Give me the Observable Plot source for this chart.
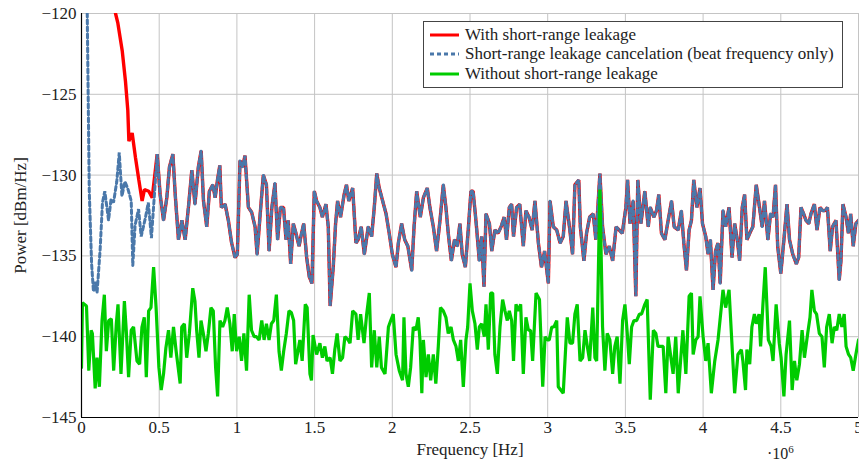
<!DOCTYPE html>
<html>
<head>
<meta charset="utf-8">
<script src="https://cdn.jsdelivr.net/npm/d3@7"></script>
<script src="https://cdn.jsdelivr.net/npm/@observablehq/plot@0.6"></script>
<style>
  html, body { margin: 0; padding: 0; background: #fff; }
  #wrap { position: relative; width: 859px; height: 464px; font-family: "Liberation Serif", serif; color: #222; }
  #wrap svg text { font-family: "Liberation Serif", serif; }
  #legend { position: absolute; left: 423px; top: 21px; width: 420px; height: 67px; border: 1px solid #444; background: #fff; box-sizing: border-box; }
  .row { position: absolute; left: 0; height: 20px; display: flex; align-items: center; font-size: 17px; white-space: nowrap; }
  .row svg { margin-left: 6px; margin-right: 6px; }
  #xexp { position: absolute; left: 767px; top: 443px; font-size: 16px; }
</style>
</head>
<body>
<div id="wrap"></div>
<script>
// Frequency axis values are in units of 10^6 Hz
const xTicks = [0, 0.5, 1, 1.5, 2, 2.5, 3, 3.5, 4, 4.5, 5];
const yTicks = [-145, -140, -135, -130, -125, -120];
const seriesNames = ["With short-range leakage", "Short-range leakage cancelation (beat frequency only)", "Without short-range leakage"];

// Red: with short-range leakage
const redFreq = [0.15,0.18,0.2,0.219,0.234,0.262,0.283,0.298,0.305,0.326,0.347,0.369,0.39,0.405,0.433,0.455,0.487,
0.506,0.528,0.549,0.566,0.588,0.603,0.624,0.646,0.667,0.688,0.71,0.73,0.752,0.77,0.785,0.806,0.823,0.845,0.86,0.875,0.89,0.90,0.924,0.945,0.966,0.988,1.003,1.02,1.037,1.052,1.074,1.095,1.117,1.13,1.15,1.17,1.19,1.207,1.225,1.245,1.262,1.28,1.3,1.316,1.33,1.346,1.363,1.38,1.4,1.416,1.43,1.449,1.466,1.483,1.498,1.513,1.534,1.55,1.573,1.588,1.6,1.62,1.635,1.648,1.667,1.69,1.705,1.72,
1.745,1.766,1.78,1.8,1.82,1.845,1.867,1.884,1.9,1.916,1.938,1.96,1.98,2.0,2.024,2.039,2.06,2.08,2.1,2.125,2.14,2.157,2.18,2.2,2.225,2.242,2.264,2.285,2.307,2.328,2.345,2.36,2.38,2.4,2.418,2.435,2.45,2.47,2.49,2.506,2.52,2.54,2.56,2.575,2.59,2.603,2.625,2.64,2.66,2.68,2.7,2.72,2.735,2.753,2.768,2.78,2.8,2.82,2.843,2.86,2.88,
2.9,2.918,2.94,2.96,2.98,3.004,3.015,3.036,3.058,3.08,3.1,3.118,3.14,3.16,3.175,3.2,3.21,3.233,3.25,3.27,3.293,3.31,3.336,3.353,3.375,3.396,3.418,3.44,3.46,3.48,3.503,3.514,3.53,3.55,3.567,3.58,3.6,3.625,3.647,3.66,3.683,3.7,3.715,3.732,3.754,3.775,3.797,3.814,3.84,3.86,3.876,3.893,3.91,3.925,3.94,3.96,3.98,3.996,
4.017,4.032,4.047,4.064,4.08,4.096,4.11,4.128,4.145,4.167,4.186,4.203,4.22,4.235,4.252,4.267,4.282,4.3,4.32,4.342,4.363,4.38,4.395,4.417,4.434,4.45,4.466,4.48,4.5,4.52,4.54,4.556,4.577,4.6,4.615,4.63,4.647,4.662,4.68,4.694,4.716,4.733,4.752,4.77,4.786,4.8,4.818,4.833,4.855,4.876,4.887,4.9,4.92,4.935,4.95,4.966,4.983,5.0];
const redPower = [-112,-115,-117.5,-120,-120.6,-122.3,-124.2,-126.0,-127.9,-127.4,-128.9,-130.3,-131.6,-130.9,-131.0,-131.4,-128.7,
-131.2,-132.8,-131.4,-129.5,-128.7,-131.2,-134.0,-132.8,-134.0,-132.0,-129.7,-131.8,-129.5,-128.5,-131.6,-133.2,-131.0,-130.6,-131.4,-130.3,-129.4,-132.0,-131.8,-132.8,-134.2,-135.1,-134.9,-129.1,-129.5,-128.8,-132.0,-132.3,-133.2,-134.9,-132.4,-130.0,-130.6,-134.7,-132.0,-130.5,-134.0,-132.0,-132.0,-134.0,-132.8,-135.5,-133.0,-133.6,-134.4,-133.6,-133.0,-135.1,-136.3,-136.7,-131.0,-131.6,-132.0,-132.6,-131.8,-133.2,-138.1,-135.7,-133.0,-131.6,-132.6,-131.2,-130.6,-131.6,
-130.8,-134.2,-134.0,-133.2,-134.9,-133.2,-133.8,-132.0,-129.9,-130.8,-131.6,-132.4,-133.6,-134.9,-135.7,-134.2,-133.0,-134.0,-134.4,-135.9,-133.2,-131.0,-132.6,-131.4,-130.8,-132.0,-133.2,-134.7,-132.8,-130.6,-132.0,-133.6,-135.3,-134.0,-134.4,-133.0,-134.9,-135.7,-133.2,-131.0,-131.0,-133.0,-135.3,-133.8,-136.9,-132.4,-133.0,-134.7,-133.4,-133.6,-133.2,-132.6,-134.0,-132.0,-131.8,-133.8,-132.0,-131.8,-134.4,-132.2,-132.6,
-133.4,-131.6,-134.2,-135.7,-134.7,-136.7,-131.6,-133.2,-133.4,-134.2,-133.8,-131.6,-133.2,-134.9,-130.6,-130.3,-133.2,-135.3,-133.6,-132.6,-132.4,-134.0,-129.9,-133.2,-134.9,-134.4,-135.3,-133.2,-133.4,-133.6,-132.0,-130.3,-133.0,-131.6,-137.5,-130.3,-133.0,-131.0,-133.2,-132.0,-132.6,-132.2,-131.2,-133.6,-134.0,-132.8,-131.6,-133.2,-133.4,-132.2,-134.2,-135.9,-133.4,-132.8,-130.3,-132.0,-130.8,-133.0,
-133.8,-134.9,-134.0,-137.1,-134.7,-134.2,-136.7,-132.2,-133.2,-132.0,-135.1,-133.0,-134.0,-135.3,-132.0,-131.2,-134.0,-133.6,-133.2,-130.6,-132.0,-133.2,-131.6,-134.0,-132.4,-132.6,-130.6,-134.4,-136.1,-134.0,-131.8,-134.0,-134.9,-135.5,-135.1,-132.0,-132.4,-132.8,-133.0,-132.4,-131.8,-133.4,-132.0,-132.2,-132.2,-132.0,-134.7,-133.2,-132.8,-136.5,-135.3,-131.8,-132.6,-133.6,-132.4,-134.4,-133.0,-132.8];

// Blue dashed: cancelation, low-frequency part (above 0.487 it follows the red curve)
const blueFreqLow = [0.025,0.05,0.065,0.077,0.09,0.1,0.12,0.135,0.15,0.174,0.19,0.206,0.227,0.243,0.26,0.28,0.30,0.32,0.33,0.345,0.367,0.384,0.41,0.43,0.45];
const bluePowerLow = [-110,-131,-135.5,-137.2,-136.6,-137.3,-134.6,-131.7,-131.0,-132.8,-131.5,-131.7,-130.4,-128.6,-131.3,-130.4,-130.9,-131.6,-135.6,-133.1,-132.1,-133.8,-132.7,-131.7,-133.9];
const blueJoinFreq = 0.487;

// Green: without short-range leakage
const greenFreq = [0.0,0.006,0.032,0.047,0.062,0.07,0.088,0.1,0.115,0.132,0.147,0.16,0.175,0.192,0.207,0.224,0.235,0.254,0.276,0.288,0.303,0.32,0.335,0.357,0.374,0.389,0.404,0.417,0.432,0.447,0.464,0.48,0.498,0.513,0.528,0.543,0.56,0.575,0.592,0.609,0.635,0.645,0.662,0.677,0.694,0.716,0.73,0.741,0.756,0.769,0.784,0.801,0.816,0.833,0.848,0.863,0.876,0.891,0.908,0.923,0.938,0.955,0.97,0.983,0.998,1.015,1.03,1.045,1.062,1.079,1.094,1.111,1.126,1.143,1.16,1.175,1.19,1.207,1.222,1.237,1.254,1.271,1.286,1.301,1.318,1.335,1.35,1.365,1.378,1.393,1.405,1.42,1.44,1.452,1.47,1.48,1.49,1.513,1.534,1.55,1.566,1.58,1.6,1.615,1.63,1.645,1.663,1.68,1.695,1.716,1.728,1.745,1.766,1.78,1.796,1.818,1.835,1.852,1.867,1.884,1.9,1.916,1.93,1.953,1.975,1.99,2.006,2.024,2.045,2.066,2.075,2.088,2.103,2.118,2.135,2.152,2.167,2.178,2.19,2.2,2.217,2.232,2.247,2.264,2.28,2.296,2.31,2.328,2.345,2.36,2.378,2.393,2.41,2.425,2.44,2.457,2.474,2.485,2.5,2.515,2.532,2.547,2.56,2.575,2.592,2.603,2.618,2.633,2.646,2.66,2.676,2.693,2.71,2.725,2.74,2.753,2.768,2.78,2.796,2.81,2.826,2.843,2.86,2.876,2.89,2.903,2.925,2.947,2.968,2.983,2.998,3.01,3.026,3.04,3.058,3.068,3.084,3.1,3.11,3.126,3.143,3.16,3.175,3.19,3.208,3.225,3.24,3.255,3.27,3.29,3.304,3.315,3.336,3.353,3.368,3.383,3.4,3.418,3.432,3.447,3.465,3.482,3.497,3.512,3.525,3.54,3.555,3.572,3.59,3.604,3.625,3.64,3.66,3.68,3.696,3.71,3.726,3.743,3.76,3.775,3.79,3.807,3.824,3.84,3.855,3.87,3.889,3.91,3.925,3.936,3.953,3.968,3.98,4.0,4.017,4.032,4.053,4.075,4.096,4.117,4.128,4.145,4.167,4.182,4.203,4.224,4.246,4.256,4.273,4.282,4.3,4.314,4.33,4.342,4.36,4.37,4.385,4.4,4.42,4.438,4.45,4.47,4.49,4.502,4.52,4.534,4.556,4.573,4.588,4.603,4.62,4.637,4.652,4.673,4.688,4.7,4.716,4.73,4.748,4.765,4.78,4.795,4.812,4.83,4.844,4.86,4.876,4.893,4.908,4.92,4.936,4.95,4.966,4.983,5.0];
const greenPower = [-141.9,-137.9,-138.1,-142.1,-139.6,-139.8,-143.2,-141.3,-143.1,-139.0,-137.4,-140.9,-139.0,-138.9,-142.1,-139.2,-138.0,-142.3,-137.8,-139.6,-142.5,-139.6,-139.4,-141.5,-141.7,-139.4,-138.8,-142.5,-138.4,-138.2,-135.7,-138.2,-141.9,-143.3,-142.3,-140.7,-139.6,-141.3,-139.4,-140.9,-142.9,-139.4,-139.2,-141.3,-139.8,-137.0,-137.8,-139.6,-141.3,-139.0,-139.8,-140.9,-139.8,-138.2,-138.4,-141.9,-143.7,-139.0,-139.4,-139.0,-138.2,-139.2,-140.9,-138.6,-140.9,-140.0,-141.5,-139.8,-142.1,-137.4,-139.6,-140.0,-140.0,-140.2,-139.0,-140.2,-139.2,-140.2,-139.2,-139.0,-137.4,-140.9,-142.1,-140.9,-139.8,-138.4,-138.5,-139.0,-141.7,-140.9,-140.2,-141.5,-138.0,-138.2,-142.3,-142.7,-139.9,-141.1,-140.4,-141.3,-140.6,-141.5,-141.3,-142.3,-140.8,-139.8,-141.5,-141.3,-140.0,-140.2,-140.4,-138.4,-138.6,-140.2,-138.6,-140.4,-138.6,-137.3,-141.9,-139.6,-141.9,-140.0,-141.9,-142.3,-139.4,-139.0,-138.6,-141.1,-142.1,-142.7,-138.8,-142.3,-143.1,-141.9,-139.4,-139.6,-138.8,-140.2,-143.5,-140.2,-142.5,-141.1,-142.7,-141.1,-142.9,-140.6,-138.2,-138.4,-138.8,-139.8,-139.4,-140.2,-140.6,-141.5,-140.2,-143.1,-140.2,-139.4,-136.7,-138.4,-139.2,-140.8,-139.4,-139.2,-140.0,-138.0,-140.8,-137.3,-137.3,-141.1,-142.3,-139.4,-137.7,-138.4,-139.0,-138.4,-139.0,-141.5,-138.0,-138.4,-138.0,-142.3,-138.8,-139.6,-139.6,-141.5,-137.3,-137.7,-143.1,-140.0,-140.2,-140.2,-139.4,-139.4,-139.0,-143.1,-143.3,-143.5,-141.7,-138.8,-140.4,-140.4,-138.6,-138.0,-141.5,-141.3,-139.6,-140.6,-141.5,-138.2,-141.3,-141.5,-130.9,-139.4,-142.1,-139.8,-140.2,-142.3,-140.6,-140.0,-142.9,-139.0,-138.0,-139.8,-141.7,-139.4,-139.0,-139.0,-138.6,-138.6,-138.0,-137.7,-143.9,-139.6,-139.8,-140.6,-140.6,-140.6,-143.5,-140.0,-141.1,-142.3,-140.0,-143.5,-141.5,-139.6,-142.3,-137.5,-137.3,-141.1,-140.2,-140.0,-137.5,-140.0,-141.5,-140.4,-143.5,-141.5,-140.2,-138.2,-137.1,-138.2,-137.1,-139.8,-143.5,-141.1,-140.8,-141.5,-143.3,-140.8,-141.7,-139.4,-138.6,-139.2,-138.6,-140.6,-138.0,-135.7,-140.2,-140.6,-141.5,-138.0,-140.4,-141.3,-143.7,-141.1,-139.0,-143.3,-141.5,-142.7,-141.7,-139.6,-141.3,-139.8,-138.8,-137.1,-138.4,-138.6,-139.8,-140.0,-141.9,-139.4,-138.6,-140.4,-139.4,-139.6,-138.6,-139.4,-138.6,-140.6,-141.1,-141.3,-142.1,-141.1,-140.2];

const colors = ["#ff0000", "#4a78aa", "#00cc00"];
const FONT = '"Liberation Serif", serif';

const red = redFreq.map((f, i) => ({f, p: redPower[i]}));
const blue = blueFreqLow.map((f, i) => ({f, p: bluePowerLow[i]}))
  .concat(red.filter(d => d.f >= blueJoinFreq));
const green = greenFreq.map((f, i) => ({f, p: greenPower[i]}));

const minus = d => d < 0 ? "\u2212" + Math.abs(d) : String(d);

const chart = Plot.plot({
  width: 859,
  height: 464,
  marginLeft: 81,
  marginRight: 1,
  marginTop: 13,
  marginBottom: 47,
  style: {fontFamily: FONT, fontSize: "17px", color: "#222", background: "#fff"},
  x: {domain: [xTicks[0], xTicks[xTicks.length - 1]]},
  y: {domain: [yTicks[0], yTicks[yTicks.length - 1]]},
  marks: [
    Plot.gridX(xTicks, {stroke: "#c4c4c4", strokeOpacity: 1}),
    Plot.gridY(yTicks, {stroke: "#c4c4c4", strokeOpacity: 1}),
    Plot.line(red, {x: "f", y: "p", stroke: colors[0], strokeWidth: 3.4, clip: true, strokeLinejoin: "miter"}),
    Plot.line(blue, {x: "f", y: "p", stroke: colors[1], strokeWidth: 3, strokeDasharray: "4,3", clip: true, strokeLinejoin: "miter"}),
    Plot.line(green, {x: "f", y: "p", stroke: colors[2], strokeWidth: 3.2, clip: true, strokeLinejoin: "miter"}),
    Plot.ruleX([xTicks[0]], {stroke: "#000", strokeWidth: 1.2}),
    Plot.ruleY([yTicks[0]], {stroke: "#000", strokeWidth: 1.2}),
    Plot.axisX(xTicks, {tickSize: 0, tickPadding: 3, label: null, fontSize: 17, fontFamily: FONT, tickFormat: d => String(d)}),
    Plot.axisY(yTicks, {tickSize: 0, tickPadding: 5, label: null, fontSize: 17, fontFamily: FONT, tickFormat: minus}),
    Plot.text(["Frequency [Hz]"], {frameAnchor: "bottom", dy: 37, fontSize: 17, fontFamily: FONT}),
    Plot.text(["Power [dBm/Hz]"], {frameAnchor: "left", textAnchor: "middle", dx: -61, rotate: -90, fontSize: 17, fontFamily: FONT})
  ]
});

const wrap = document.getElementById("wrap");
wrap.appendChild(chart);

const exp = document.createElement("div");
exp.id = "xexp";
exp.innerHTML = "\u00b710<sup style='font-size:11px'>6</sup>";
wrap.appendChild(exp);

const legend = document.createElement("div");
legend.id = "legend";
const rowTops = [3, 22, 42];
seriesNames.forEach((name, i) => {
  const row = document.createElement("div");
  row.className = "row";
  row.style.top = rowTops[i] + "px";
  const dash = i === 1 ? "stroke-dasharray='4,3'" : "";
  row.innerHTML = `<svg width="29" height="6"><line x1="0" y1="3" x2="29" y2="3" stroke="${colors[i]}" stroke-width="3" ${dash}/></svg><span>${name}</span>`;
  legend.appendChild(row);
});
wrap.appendChild(legend);
</script>
</body>
</html>
